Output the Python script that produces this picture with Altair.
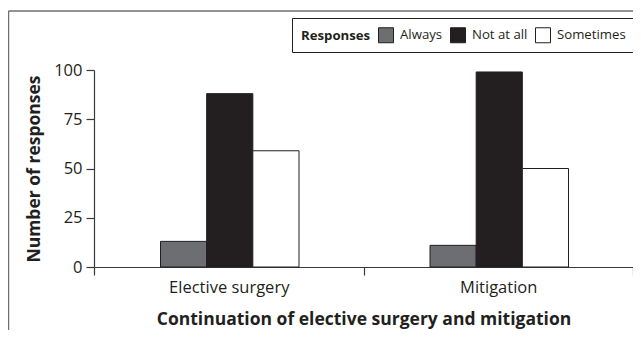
import altair as alt
import pandas as pd

categories = ["Elective surgery", "Mitigation"]
responses = ["Always", "Not at all", "Sometimes"]
always = [13, 11]
not_at_all = [88, 99]
sometimes = [59, 50]
colors = ["#6d6e71", "#231f20", "#ffffff"]
y_ticks = [0, 25, 50, 75, 100]

rows = []
for i, c in enumerate(categories):
    for r, vals in zip(responses, [always, not_at_all, sometimes]):
        rows.append({"Category": c, "Response": r, "Count": vals[i]})
df = pd.DataFrame(rows)

FONT = "Open Sans"
TXT = "#231f20"
W, H = 539, 197

bars = alt.Chart(df).mark_bar(stroke="#231f20", strokeWidth=1).encode(
    x=alt.X(
        "Category:N", sort=categories,
        scale=alt.Scale(paddingInner=0, paddingOuter=0),
        axis=alt.Axis(
            title="Continuation of elective surgery and mitigation",
            labelAngle=0, tickBand="extent", tickSize=8, labelPadding=4,
            titlePadding=15, titleFontSize=17.5, titleFontWeight="bold",
            labelFontSize=16.5,
        ),
    ),
    xOffset=alt.XOffset(
        "Response:N", sort=responses,
        scale=alt.Scale(range=[66.5, 205], paddingOuter=0, paddingInner=0),
    ),
    y=alt.Y(
        "Count:Q",
        scale=alt.Scale(domain=[0, 100]),
        axis=alt.Axis(
            values=y_ticks, title="Number of responses", grid=False,
            tickSize=8, labelPadding=4, titlePadding=10,
            titleFontSize=17.5, titleFontWeight="bold", labelFontSize=16.5,
        ),
    ),
    color=alt.Color(
        "Response:N", sort=responses,
        scale=alt.Scale(domain=responses, range=colors),
        legend=alt.Legend(
            title="Responses", orient="none", direction="horizontal",
            legendX=198, legendY=-52, titleOrient="left",
            titleFontSize=13.2, titleFontWeight="bold", titlePadding=7,
            labelFontSize=13.2, labelOffset=6, columnPadding=5,
            symbolType="square", symbolSize=225,
            symbolStrokeColor="#231f20", symbolStrokeWidth=1,
            padding=9,
        ),
    ),
)

one = pd.DataFrame({"a": [0]})
frame_top = alt.Chart(one).mark_rule(color="#707070", strokeWidth=1.5).encode(
    x=alt.value(-85.5), x2=alt.value(600), y=alt.value(-59)
)
frame_left = alt.Chart(one).mark_rule(color="#707070", strokeWidth=1.5).encode(
    x=alt.value(-85.5), y=alt.value(-59), y2=alt.value(300)
)
legend_top = alt.Chart(one).mark_rule(color="#231f20", strokeWidth=1).encode(
    x=alt.value(198.5), x2=alt.value(600), y=alt.value(-51.5)
)
legend_bottom = alt.Chart(one).mark_rule(color="#231f20", strokeWidth=1).encode(
    x=alt.value(198.5), x2=alt.value(600), y=alt.value(-17.5)
)
legend_left = alt.Chart(one).mark_rule(color="#231f20", strokeWidth=1).encode(
    x=alt.value(198.5), y=alt.value(-51.5), y2=alt.value(-17.5)
)

chart = alt.layer(
    frame_top, frame_left, legend_top, legend_bottom, legend_left, bars
).properties(
    width=W, height=H,
    autosize=alt.AutoSizeParams(type="none"),
    padding={"left": 86, "top": 62, "right": 0, "bottom": 63},
).configure_view(stroke=None).configure_axis(
    labelFont=FONT, titleFont=FONT, labelColor=TXT, titleColor=TXT,
    domainColor="#3a3a3a", tickColor="#3a3a3a", domainWidth=1.2, tickWidth=1.2,
).configure_legend(
    labelFont=FONT, titleFont=FONT, labelColor=TXT, titleColor=TXT,
)

chart.save("out.html", embed_options={"renderer": "svg", "actions": False})
